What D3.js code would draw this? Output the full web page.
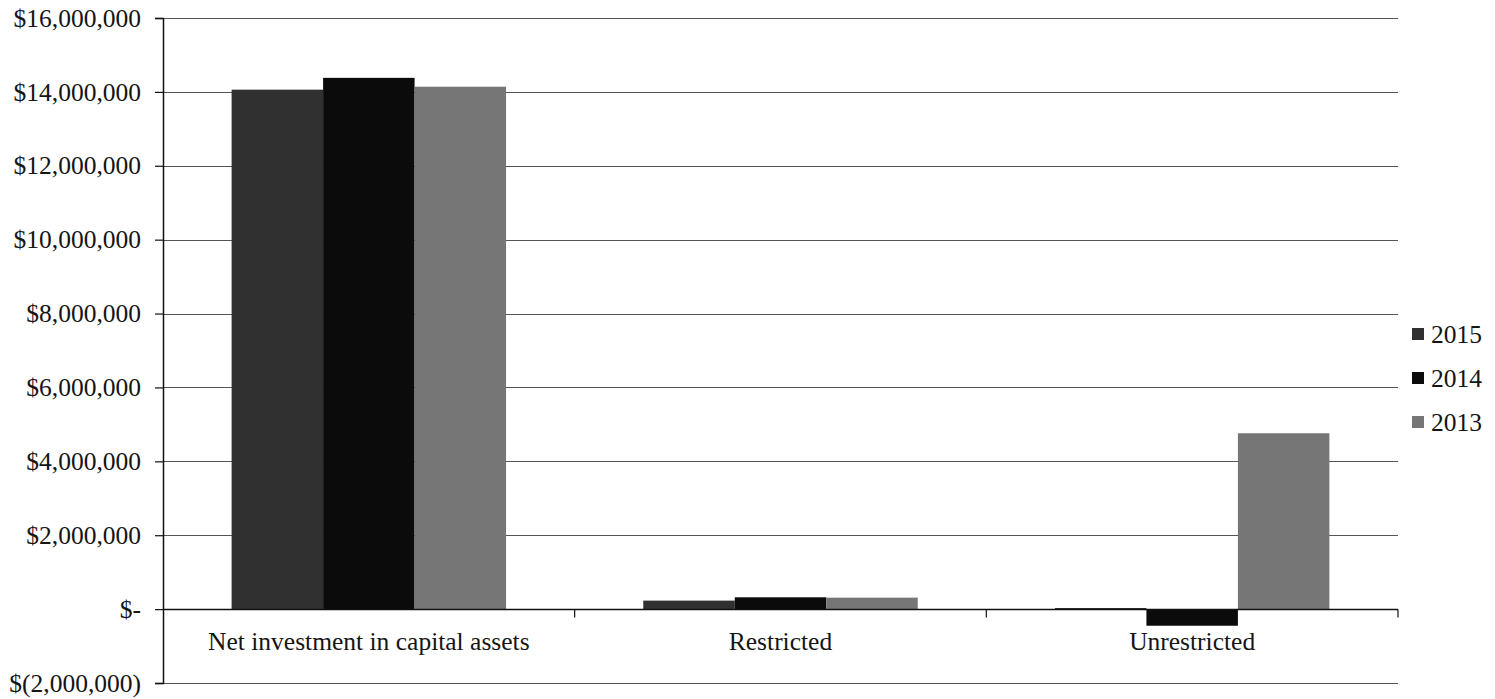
<!DOCTYPE html>
<html>
<head>
<meta charset="utf-8">
<script src="https://cdn.jsdelivr.net/npm/d3@7"></script>
<style>
  body { margin: 0; background: #fff; }
</style>
</head>
<body>
<svg id="chart"></svg>
<script>
const categories = ['Net investment in capital assets', 'Restricted', 'Unrestricted']
const years = ['2015', '2014', '2013']
const values2015 = [14060000, 230000, 30000]
const values2014 = [14380000, 320000, -450000]
const values2013 = [14140000, 310000, 4760000]
const yTicks = [-2000000, 0, 2000000, 4000000, 6000000, 8000000, 10000000, 12000000, 14000000, 16000000]

const series = [values2015, values2014, values2013]
const colors = ['#303030', '#0b0b0b', '#767676']

let width = 1495
let height = 699
let margin = { top: 18, right: 97, bottom: 16, left: 163 }
let fontSize = '25.5px'
let fontFamily = "'Liberation Serif', Tinos, 'Times New Roman', Times, serif"

let svg = d3.select('#chart')
  .attr('width', width)
  .attr('height', height)
  .attr('font-family', fontFamily)

let x = d3.scaleBand()
  .domain(categories)
  .range([margin.left, width - margin.right])

let y = d3.scaleLinear()
  .domain([-2000000, 16000000])
  .range([height - margin.bottom, margin.top])

let fmt = v => {
  if (v === 0) return '$-'
  let s = d3.format(',')(Math.abs(v))
  return v < 0 ? `$(${s})` : `$${s}`
}

// gridlines
svg.append('g')
  .selectAll('line')
  .data(yTicks.filter(t => t !== 0))
  .enter()
  .append('line')
  .attr('x1', margin.left)
  .attr('x2', width - margin.right)
  .attr('y1', d => Math.round(y(d)) + 0.5)
  .attr('y2', d => Math.round(y(d)) + 0.5)
  .attr('stroke', '#555')
  .attr('stroke-width', 1.2)

// y axis
let yAxis = svg.append('g')
  .attr('transform', `translate(${margin.left},0)`)
  .call(d3.axisLeft(y).tickValues(yTicks).tickFormat(fmt).tickSize(8).tickPadding(14))
yAxis.attr('font-family', fontFamily).attr('font-size', fontSize)
yAxis.select('.domain').attr('stroke', '#111').attr('stroke-width', 1.5)
yAxis.selectAll('.tick line').attr('stroke', '#111').attr('stroke-width', 1.2)
yAxis.selectAll('.tick text').attr('fill', '#151515')

// bars
let inner = d3.scaleBand()
  .domain(years)
  .range([0, x.bandwidth()])
  .paddingInner(0)
  .paddingOuter(0.75)

let groups = svg.append('g')
  .selectAll('g')
  .data(categories)
  .enter()
  .append('g')
  .attr('transform', d => `translate(${x(d)},0)`)

groups.selectAll('rect')
  .data((d, i) => years.map((yr, j) => ({ year: yr, value: series[j][i], color: colors[j] })))
  .enter()
  .append('rect')
  .attr('x', d => inner(d.year))
  .attr('width', inner.bandwidth())
  .attr('y', d => y(Math.max(0, d.value)))
  .attr('height', d => Math.abs(y(d.value) - y(0)))
  .attr('fill', d => d.color)

// x axis at zero
let xAxisY = Math.round(y(0)) + 0.5
svg.append('line')
  .attr('x1', margin.left)
  .attr('x2', width - margin.right)
  .attr('y1', xAxisY)
  .attr('y2', xAxisY)
  .attr('stroke', '#111')
  .attr('stroke-width', 1.5)

svg.append('g')
  .selectAll('line')
  .data(categories)
  .enter()
  .append('line')
  .attr('x1', d => x(d) + x.bandwidth())
  .attr('x2', d => x(d) + x.bandwidth())
  .attr('y1', xAxisY)
  .attr('y2', xAxisY + 8)
  .attr('stroke', '#111')
  .attr('stroke-width', 1.2)

svg.append('g')
  .selectAll('text')
  .data(categories)
  .enter()
  .append('text')
  .attr('x', d => x(d) + x.bandwidth() / 2)
  .attr('y', xAxisY + 40)
  .attr('text-anchor', 'middle')
  .attr('fill', '#151515')
  .attr('font-size', fontSize)
  .text(d => d)

// legend
let legend = svg.append('g')
  .attr('transform', `translate(1412,0)`)
  .selectAll('g')
  .data(years)
  .enter()
  .append('g')
  .attr('transform', (d, i) => `translate(0,${334 + i * 44})`)

legend.append('rect')
  .attr('x', 0)
  .attr('y', -6)
  .attr('width', 12)
  .attr('height', 12)
  .attr('fill', (d, i) => colors[i])

legend.append('text')
  .attr('x', 19)
  .attr('y', 8.5)
  .attr('fill', '#151515')
  .attr('font-size', fontSize)
  .text(d => d)
</script>
</body>
</html>
